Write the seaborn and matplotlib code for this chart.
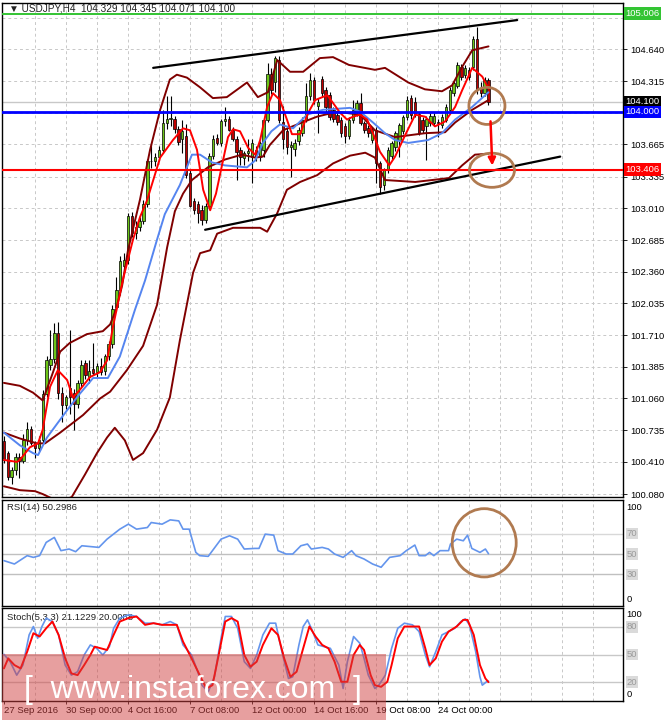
import numpy as np
import matplotlib
matplotlib.use('Agg')
import matplotlib.pyplot as plt
import matplotlib.transforms as mtransforms
from matplotlib.patches import Ellipse, Rectangle
import seaborn as sns

# H4 bars, index 0 = 27 Sep 2016 08:00
opens = [100.62, 100.50, 100.26, 100.33, 100.46, 100.42, 100.63, 100.75, 100.60, 100.55,
         100.63, 101.11, 101.40, 101.47, 101.73, 101.12, 100.99, 101.17, 101.12, 101.00,
         101.22, 101.42, 101.28, 101.36, 101.33, 101.39, 101.34, 101.50, 101.62, 102.00,
         102.17, 102.42, 102.48, 102.93, 102.76, 102.82, 102.88, 103.05, 103.49, 103.50,
         103.54, 103.61, 103.88, 103.93, 103.93, 103.82, 103.72, 103.75, 103.37, 103.09,
         103.05, 102.99, 102.89, 103.03, 103.55, 103.73, 103.68, 103.91, 103.93, 103.81,
         103.72, 103.61, 103.53, 103.58, 103.54, 103.61, 103.54, 103.61, 103.92, 104.39,
         104.30, 104.53, 103.90, 103.80, 103.64, 103.62, 103.70, 103.78, 103.92, 104.16,
         104.33, 104.06, 104.34, 104.22, 104.17, 104.02, 103.97, 103.92, 103.85, 103.75,
         103.92, 104.00, 104.09, 103.88, 103.83, 103.71, 103.81, 103.47, 103.25, 103.40,
         103.55, 103.64, 103.71, 103.80, 103.95, 104.14, 104.10, 103.98, 103.92, 103.85,
         103.88, 103.88, 103.90, 103.86, 103.92, 104.02, 104.19, 104.26, 104.46, 104.38,
         104.43, 104.46, 104.75, 104.24, 104.19, 104.329]
highs = [100.68, 100.52, 100.36, 100.50, 100.50, 100.70, 100.82, 100.78, 100.62, 100.68,
         101.15, 101.50, 101.76, 101.83, 101.84, 101.18, 101.10, 101.76, 101.16, 101.25,
         101.45, 101.45, 101.45, 101.63, 101.42, 101.48, 101.52, 101.65, 102.02, 102.31,
         102.52, 102.55, 102.96, 102.97, 102.88, 102.92, 103.10, 103.52, 103.68, 103.58,
         103.65, 104.02, 104.16, 104.16, 103.96, 103.85, 103.92, 103.87, 103.40, 103.12,
         103.08, 103.04, 103.06, 103.58, 103.76, 103.77, 103.93, 104.05, 103.96, 103.84,
         103.75, 103.64, 103.60, 103.72, 103.72, 103.65, 103.70, 103.94, 104.50, 104.45,
         104.57, 104.57, 104.06, 103.84, 103.70, 103.72, 103.84, 103.95, 104.29, 104.40,
         104.36, 104.14, 104.37, 104.25, 104.20, 104.05, 104.00, 103.95, 103.88, 103.95,
         104.12, 104.12, 104.19, 103.91, 103.86, 103.84, 103.84, 103.50, 103.42, 103.64,
         103.70, 103.80, 103.88, 103.97, 104.16, 104.17, 104.15, 104.00, 103.95, 103.96,
         103.99, 103.99, 103.93, 103.98, 104.08, 104.25, 104.32, 104.51, 104.49, 104.48,
         104.46, 104.78, 104.87, 104.30, 104.36, 104.345]
lows = [100.40, 100.22, 100.18, 100.28, 100.24, 100.40, 100.58, 100.58, 100.45, 100.52,
        100.60, 101.08, 101.35, 101.42, 101.05, 100.82, 100.95, 100.90, 100.74, 100.96,
        101.18, 101.26, 101.22, 101.30, 101.28, 101.30, 101.30, 101.45, 101.58, 101.96,
        102.12, 102.38, 102.44, 102.72, 102.70, 102.78, 102.85, 103.02, 103.42, 103.44,
        103.50, 103.58, 103.82, 103.85, 103.78, 103.66, 103.58, 103.32, 103.02, 102.95,
        102.86, 102.84, 102.86, 103.00, 103.52, 103.66, 103.65, 103.85, 103.80, 103.70,
        103.30, 103.45, 103.45, 103.50, 103.27, 103.50, 103.50, 103.54, 103.90, 104.18,
        104.20, 103.88, 103.62, 103.57, 103.33, 103.55, 103.66, 103.75, 103.90, 104.12,
        104.08, 103.78, 104.15, 104.00, 103.92, 103.90, 103.86, 103.74, 103.68, 103.72,
        103.88, 103.96, 103.86, 103.78, 103.74, 103.68, 103.27, 103.16, 103.20, 103.37,
        103.52, 103.60, 103.54, 103.77, 103.92, 103.93, 103.95, 103.76, 103.78, 103.51,
        103.85, 103.85, 103.74, 103.83, 103.90, 104.00, 104.16, 104.24, 104.33, 104.35,
        104.33, 104.43, 104.18, 104.15, 104.16, 104.071]
closes = [100.43, 100.26, 100.33, 100.46, 100.42, 100.63, 100.75, 100.60, 100.55, 100.63,
          101.11, 101.45, 101.47, 101.73, 101.12, 100.99, 101.08, 101.08, 101.00, 101.22,
          101.40, 101.30, 101.34, 101.32, 101.39, 101.33, 101.50, 101.62, 101.98, 102.17,
          102.47, 102.48, 102.93, 102.76, 102.82, 102.88, 103.05, 103.49, 103.50, 103.54,
          103.61, 103.88, 103.93, 103.94, 103.82, 103.69, 103.80, 103.35, 103.03, 102.99,
          102.96, 102.89, 103.03, 103.55, 103.72, 103.68, 103.91, 103.93, 103.81, 103.72,
          103.59, 103.54, 103.58, 103.60, 103.68, 103.54, 103.68, 103.92, 104.39, 104.22,
          104.55, 103.92, 103.72, 103.64, 103.66, 103.68, 103.81, 103.92, 104.16, 104.33,
          104.12, 104.10, 104.19, 104.05, 103.95, 103.93, 103.90, 103.78, 103.75, 103.92,
          104.02, 104.09, 103.88, 103.81, 103.78, 103.81, 103.47, 103.23, 103.40, 103.61,
          103.68, 103.78, 103.86, 103.95, 104.12, 103.97, 103.98, 103.78, 103.81, 103.93,
          103.96, 103.96, 103.88, 103.95, 104.05, 104.22, 104.29, 104.48, 104.36, 104.45,
          104.36, 104.75, 104.22, 104.19, 104.33, 104.100]

# Bollinger bands (upper / middle / lower), read at turning points
bb_up_bars = [0, 4.1, 7.5, 10, 12.4, 14.5, 17, 21.4, 25.5, 27.4, 28.9, 30.5, 32, 35.1, 37.7,
              40.3, 42.8, 44.6, 47.2, 50.6, 53.9, 57.5, 62.7, 65.5, 68.1, 70.5, 73.8, 77.2,
              81.5, 84.9, 89, 95.7, 98.3, 104.3, 108.6, 113, 115.6, 118.2, 120.8, 125]
bb_up_vals = [101.22, 101.19, 101.12, 101.04, 101.30, 101.54, 101.63, 101.72, 101.75, 101.82,
              101.97, 102.22, 102.58, 103.10, 103.61, 104.02, 104.33, 104.38, 104.35, 104.25,
              104.14, 104.15, 104.30, 104.15, 104.20, 104.53, 104.41, 104.41, 104.55, 104.56,
              104.48, 104.43, 104.45, 104.30, 104.23, 104.21, 104.27, 104.46, 104.63, 104.67]
bb_mid_bars = [0, 4.1, 8.5, 10.6, 14.5, 20.4, 24.8, 27.4, 31.7, 35.9, 39.5, 42.1, 44.1, 46.2,
               48.5, 52.6, 57, 61.4, 64.8, 66.8, 68.6, 72, 73.8, 78.2, 80.8, 85.9, 91.9, 95.7,
               100.9, 108.6, 113.8, 116.4, 120.8, 125]
bb_mid_vals = [100.71, 100.65, 100.60, 100.60, 100.71, 100.89, 101.06, 101.13, 101.35, 101.60,
               102.02, 102.61, 102.98, 103.16, 103.30, 103.43, 103.51, 103.56, 103.53, 103.54,
               103.66, 103.81, 103.84, 103.91, 103.95, 104.00, 103.97, 103.81, 103.74, 103.78,
               103.79, 103.89, 104.02, 104.12]
bb_low_bars = [0, 4.1, 8, 10, 13.2, 15.7, 17.5, 20.9, 24, 26.6, 28.6, 31.2, 33.3, 35.9, 39.5,
               42.8, 45.4, 48.8, 50.6, 53.2, 55, 59.1, 66.1, 67.9, 70.5, 73, 76.4, 80.8, 84.9,
               89.3, 93.2, 95.7, 98.3, 106.1, 114.8, 118.2, 121.5, 125]
bb_low_vals = [100.16, 100.12, 100.11, 100.08, 100.02, 100.02, 100.05, 100.28, 100.50, 100.66,
               100.76, 100.63, 100.43, 100.50, 100.74, 101.07, 101.66, 102.35, 102.55, 102.58,
               102.75, 102.81, 102.81, 102.77, 102.96, 103.20, 103.28, 103.35, 103.47, 103.55,
               103.58, 103.53, 103.30, 103.28, 103.32, 103.45, 103.56, 103.57]

# slow moving average (blue)
blue_bars = [0, 4.1, 7.5, 8.8, 11.1, 16.3, 19.6, 23, 26.8, 29.9, 33.8, 36.4, 39.5, 41.5, 45.4,
             48.5, 50.6, 53.7, 57, 62.7, 64.8, 66.8, 69, 71.2, 74.6, 78.2, 82.3, 89.3, 91.9,
             95.2, 98.3, 100.9, 104.3, 109.4, 113, 116.4, 120.8, 125]
blue_vals = [100.71, 100.58, 100.50, 100.48, 100.66, 100.94, 101.11, 101.27, 101.27, 101.49,
             101.97, 102.27, 102.69, 102.95, 103.25, 103.56, 103.56, 103.48, 103.45, 103.43,
             103.50, 103.68, 103.80, 103.87, 103.83, 103.97, 104.02, 104.04, 104.00, 103.89,
             103.78, 103.71, 103.68, 103.71, 103.78, 103.92, 104.05, 104.20]

# fast moving average (red)
red_bars = [0, 3.4, 4.1, 6.7, 8.8, 10, 11.9, 13.9, 16.3, 17.8, 19.6, 22.2, 24.8, 26.6, 28.1,
            30.7, 33.3, 35.1, 36.9, 40.3, 43.6, 46.2, 48, 49.8, 51.4, 53.2, 54.7, 56.3, 57.8,
            59.1, 60.9, 63, 64.8, 66.1, 67.9, 69.4, 71.2, 73, 74.3, 76.4, 78.5, 80.3, 83.4,
            84.9, 86.7, 88.5, 90.1, 91.9, 93.7, 95.2, 97, 99.4, 100.9, 103.5, 106.1, 108.6,
            111.2, 113.8, 116.4, 118.2, 120.8, 123.4, 125]
red_vals = [100.43, 100.41, 100.43, 100.56, 100.60, 100.74, 101.18, 101.35, 101.25, 101.07,
            101.15, 101.28, 101.33, 101.45, 101.79, 102.28, 102.69, 102.92, 103.09, 103.53,
            103.71, 103.83, 103.81, 103.61, 103.20, 102.99, 103.16, 103.46, 103.74, 103.82,
            103.80, 103.63, 103.56, 103.71, 104.05, 104.19, 104.12, 103.92, 103.77, 103.77,
            103.99, 104.12, 104.17, 104.09, 103.99, 103.92, 103.95, 103.97, 103.92, 103.78,
            103.59, 103.45, 103.54, 103.76, 103.97, 103.95, 103.85, 103.90, 104.05, 104.22,
            104.45, 104.36, 104.24]

# channel lines
chan_up_bars = [38.5, 132.4]
chan_up_vals = [104.45, 104.94]
chan_low_bars = [51.9, 143.5]
chan_low_vals = [102.79, 103.54]

# RSI(14)
rsi_bars = [0, 2.7, 6, 7.6, 9.2, 10.9, 13, 14.7, 16.8, 18.5, 20.1, 24.5, 26.6, 29.9, 32.1,
            34.2, 37, 38, 40.8, 42.9, 45.1, 46.2, 47.8, 49.5, 50.5, 52.7, 56, 58.2, 60.3, 62,
            64.7, 65.8, 67.4, 69.6, 70.7, 72.8, 74.5, 76.6, 78.3, 79.3, 82.1, 83.7, 85.3,
            87.5, 89.7, 90.8, 92.9, 95.1, 97.3, 99.5, 102.2, 103.8, 106, 107.1, 108.7, 109.8,
            110.9, 112.5, 114.7, 115.2, 116.8, 118.5, 119.6, 120.7, 122.8, 124.2, 125]
rsi_vals = [43.5, 40.2, 48.4, 46.7, 48.4, 61.4, 66.3, 53.3, 54.9, 52.3, 58.1, 56.5, 64.6, 74.4,
            79.3, 74.4, 76.0, 80.9, 79.3, 83.5, 82.5, 74.4, 74.4, 51.6, 48.4, 47.7, 64.6, 67.9,
            64.6, 54.9, 55.5, 55.5, 69.5, 68.5, 53.3, 50.0, 50.0, 58.1, 59.8, 54.9, 56.5, 54.9,
            50.0, 46.7, 53.3, 48.4, 45.1, 40.2, 37.0, 46.7, 48.4, 53.3, 58.8, 48.4, 48.4, 51.6,
            48.4, 53.3, 53.3, 59.8, 64.6, 63.0, 68.5, 55.5, 51.6, 54.9, 50.3]

# Stochastic(5,3,3): %K (blue) and %D (red)
stk_bars = [0, 1.6, 3.3, 4.9, 6.5, 7.6, 8.7, 9.8, 10.9, 12.5, 14.1, 15.8, 17.4, 19, 20.7, 22.3,
            23.9, 25.5, 27.2, 28.3, 29.9, 32.1, 34.2, 36.4, 38.6, 40.8, 42.9, 44.6, 46.2, 48.4,
            50, 51.1, 52.7, 54.3, 56, 57.1, 58.7, 60.3, 62, 63.6, 65.2, 66.8, 68.5, 70.1, 71.7,
            73.4, 74.5, 76.1, 77.2, 78.3, 79.3, 81, 82.6, 84.2, 86.4, 87.5, 88.6, 90.2, 91.8,
            92.9, 94, 95.7, 96.7, 98.4, 100, 101.6, 103.3, 105.4, 107.1, 108.7, 109.8, 111.4,
            113, 114.7, 116.3, 117.9, 119, 120.1, 121.7, 122.8, 123.4, 124.5, 125]
stk_vals = [50.2, 42.2, 27.6, 38.5, 71.3, 80.4, 67.6, 80.4, 89.5, 85.8, 71.3, 38.5, 27.6, 31.3,
            49.5, 60.4, 56.7, 49.5, 58.5, 78.5, 89.5, 93.1, 91.3, 84.0, 84.0, 82.2, 85.8, 82.2,
            60.4, 49.5, 31.3, 16.7, 9.5, 25.8, 67.6, 91.3, 91.3, 78.5, 42.2, 34.9, 49.5, 71.3,
            84.0, 84.0, 53.1, 24.0, 25.8, 60.4, 80.4, 87.6, 78.5, 60.4, 58.5, 56.7, 38.5, 13.1,
            42.2, 69.5, 62.2, 45.8, 27.6, 13.1, 16.7, 27.6, 56.7, 78.5, 84.0, 82.2, 74.9, 49.5,
            36.7, 53.1, 71.3, 74.9, 78.5, 85.8, 88.7, 82.2, 53.1, 25.8, 16.7, 20.4, 21.1]
std_bars = [0, 1.1, 2.7, 4.3, 6, 7.6, 9.2, 10.9, 12.5, 14.1, 15.8, 17.4, 19, 20.7, 22.3, 23.4,
            25, 26.6, 28.3, 29.9, 32.1, 34.2, 36.4, 38.6, 40.8, 42.9, 44.6, 46.2, 48.4, 50.5,
            52.2, 53.8, 55.4, 57.1, 58.7, 60.3, 62, 63.6, 65.2, 66.8, 69, 70.7, 72.3, 73.9,
            75.5, 77.2, 78.8, 80.4, 82.1, 83.7, 85.3, 87, 88.6, 90.2, 91.8, 92.9, 94.6, 95.7,
            97.3, 98.9, 100, 101.6, 103.3, 105.4, 107.1, 108.7, 109.8, 111.4, 113, 114.7,
            116.8, 118.5, 119.6, 121.2, 122.8, 124.2, 125]
std_vals = [34.9, 45.8, 38.5, 34.9, 53.1, 73.1, 69.5, 78.5, 85.8, 71.3, 45.8, 29.5, 27.6, 38.5,
            49.5, 58.5, 56.7, 54.9, 71.3, 85.8, 89.5, 91.3, 82.2, 84.0, 82.2, 82.2, 82.2, 64.0,
            45.8, 27.6, 13.1, 16.7, 49.5, 85.8, 89.5, 85.8, 49.5, 36.7, 42.2, 60.4, 78.5, 71.3,
            45.8, 25.8, 31.3, 56.7, 80.4, 69.5, 60.4, 56.7, 42.2, 20.4, 20.4, 49.5, 60.4, 54.9,
            27.6, 16.7, 14.9, 20.4, 38.5, 67.6, 80.4, 80.4, 80.4, 56.7, 38.5, 45.8, 64.0, 74.9,
            80.4, 87.6, 87.6, 71.3, 38.5, 24.0, 20.0]

price_ticks = [100.080, 100.410, 100.735, 101.060, 101.385, 101.710, 102.035, 102.360,
               102.685, 103.010, 103.335, 103.665, 103.990, 104.315, 104.640, 104.965]
# labels hidden behind the coloured price boxes in the reference
hidden_ticks = [103.990, 104.965]
date_bars = [0, 16, 32, 48, 64, 80, 96, 112]
date_labels = ['27 Sep 2016', '30 Sep 00:00', '4 Oct 16:00', '7 Oct 08:00',
               '12 Oct 00:00', '14 Oct 16:00', '19 Oct 08:00', '24 Oct 00:00']

sns.set_theme(style='white')
plt.rcParams['font.family'] = ['Liberation Sans', 'DejaVu Sans']

opens = np.array(opens)
highs = np.array(highs)
lows = np.array(lows)
closes = np.array(closes)
bars = np.arange(len(closes))

fig = plt.figure(figsize=(6.65, 7.21), dpi=100)
fig.patch.set_facecolor('white')
W, H = 665.0, 721.0
ax = fig.add_axes([2 / W, 1 - 497 / H, 621 / W, 494 / H])
ax_rsi = fig.add_axes([2 / W, 1 - 606 / H, 621 / W, 106 / H])
ax_sto = fig.add_axes([2 / W, 1 - 701 / H, 621 / W, 93 / H])

xmin, xmax = -0.5, 159.7
fs = 6.8
grid_col = '#C8C8C8'


def line(a, xs, ys, color, lw, z=5):
    sns.lineplot(x=xs, y=ys, ax=a, color=color, linewidth=lw, sort=False,
                 estimator=None, zorder=z)


for a in (ax, ax_rsi, ax_sto):
    a.set_xlim(xmin, xmax)
    for s in a.spines.values():
        s.set_color('black')
        s.set_linewidth(1.0)
    for gx in range(8, 160, 8):
        a.axvline(gx, color=grid_col, lw=0.7, ls=(0, (3, 3)), zorder=0)

# ---- main price panel
ax.set_ylim(100.05, 105.115)
for t in price_ticks:
    ax.axhline(t, color=grid_col, lw=0.7, ls=(0, (3, 3)), zorder=0)

up = closes >= opens
ax.vlines(bars, lows, highs, color='black', lw=0.8, zorder=3)
ax.bar(bars[up], np.maximum(closes - opens, 0.008)[up], bottom=opens[up], width=0.62,
       color='#6CC417', edgecolor='black', linewidth=0.5, zorder=4)
ax.bar(bars[~up], (opens - closes)[~up], bottom=closes[~up], width=0.62,
       color='#C00000', edgecolor='black', linewidth=0.5, zorder=4)

line(ax, bb_up_bars, bb_up_vals, '#800000', 1.4)
line(ax, bb_mid_bars, bb_mid_vals, '#800000', 1.4)
line(ax, bb_low_bars, bb_low_vals, '#800000', 1.4)
line(ax, blue_bars, blue_vals, '#5585F0', 1.4, 6)
line(ax, red_bars, red_vals, '#FF0000', 1.4, 7)
line(ax, chan_up_bars, chan_up_vals, 'black', 1.6, 8)
line(ax, chan_low_bars, chan_low_vals, 'black', 1.6, 8)

ax.axhline(105.006, color='#33C433', lw=1.4, zorder=8)
ax.axhline(104.100, color='#C8C8C8', lw=1.0, zorder=2)
ax.axhline(104.000, color='#0000FF', lw=2.0, zorder=8)
ax.axhline(103.406, color='#FF0000', lw=1.5, zorder=8)

ax.add_patch(Ellipse((124.6, 104.06), 9.3, 0.38, fill=False, ec='#B07A50', lw=2, zorder=9))
ax.add_patch(Ellipse((125.9, 103.40), 11.6, 0.35, fill=False, ec='#B07A50', lw=2, zorder=9))
ax.annotate('', xy=(126.0, 103.42), xytext=(125.5, 103.93),
            arrowprops=dict(arrowstyle='-|>', color='#FF0000', lw=1.8, mutation_scale=11),
            zorder=9)

ax.set_xticks([])
ax.yaxis.tick_right()
ax.set_yticks(price_ticks)
ax.set_yticklabels(['' if t in hidden_ticks else f'{t:.3f}' for t in price_ticks])
ax.tick_params(axis='y', which='major', right=True, left=False, labelright=True,
               labelleft=False, length=3, width=0.6, pad=2, labelsize=fs, colors='black')

blend = mtransforms.blended_transform_factory(ax.transAxes, ax.transData)
for val, fc in [(105.006, '#33C433'), (104.100, '#000000'),
                (104.000, '#0000FF'), (103.406, '#FF0000')]:
    ax.text(1.004, val, f'{val:.3f}', transform=blend, ha='left', va='center', fontsize=fs,
            color='white', zorder=20, clip_on=False,
            bbox=dict(boxstyle='square,pad=0.18', fc=fc, ec='none'))

ax.text(0.012, 0.999, '\u25bc USDJPY,H4  104.329 104.345 104.071 104.100',
        transform=ax.transAxes, ha='left', va='top', fontsize=7.2, color='#222222', zorder=10)

# ---- RSI panel
ax_rsi.set_ylim(-1, 103)
for lv, c in [(70, '#D8D8D8'), (50, '#C0C0C0'), (30, '#C0C0C0')]:
    ax_rsi.axhline(lv, color=c, lw=1.0, zorder=1)
line(ax_rsi, rsi_bars, rsi_vals, '#6495ED', 1.2)
ax_rsi.add_patch(Ellipse((123.9, 61), 16.5, 67, fill=False, ec='#B07A50', lw=2, zorder=9))
ax_rsi.text(0.008, 0.93, 'RSI(14) 50.2986', transform=ax_rsi.transAxes, ha='left',
            va='center', fontsize=fs, color='#222222')

# ---- Stochastic panel
ax_sto.set_ylim(-0.5, 100.5)
for lv in (80, 50, 20):
    ax_sto.axhline(lv, color='#C8C8C8', lw=1.0, zorder=1)
line(ax_sto, stk_bars, stk_vals, '#6495ED', 1.2)
line(ax_sto, std_bars, std_vals, '#FF0000', 1.4, 6)
ax_sto.text(0.008, 0.9, 'Stoch(5,3,3) 21.1229 20.0088', transform=ax_sto.transAxes,
            ha='left', va='center', fontsize=fs, color='#222222')

for a, levels, top_y, bot_y in [(ax_rsi, (70, 50, 30), 0.925, 0.057),
                                (ax_sto, (80, 50, 20), 0.925, 0.075)]:
    a.set_yticks([])
    a.set_xticks([])
    bl = mtransforms.blended_transform_factory(a.transAxes, a.transData)
    for lv in levels:
        a.text(1.006, lv, str(lv), transform=bl, ha='left', va='center', fontsize=fs,
               color='#9A9A9A', clip_on=False,
               bbox=dict(boxstyle='square,pad=0.12', fc='#DADADA', ec='none'))
    a.text(1.006, top_y, '100', transform=a.transAxes, ha='left', va='center',
           fontsize=fs, color='black')
    a.text(1.006, bot_y, '0', transform=a.transAxes, ha='left', va='center',
           fontsize=fs, color='black')

ax_sto.set_xticks(date_bars)
ax_sto.set_xticklabels(date_labels, ha='left')
ax_sto.tick_params(axis='x', bottom=True, length=2, width=0.6, pad=1.5, labelsize=fs,
                   colors='black')

# ---- watermark
fig.patches.append(Rectangle((2 / W, 1 - 720 / H), 384 / W, 66 / H, transform=fig.transFigure,
                             fc='#D04040', alpha=0.5, ec='none', zorder=10))
fig.text(193 / W, 1 - 698 / H, '[  www.instaforex.com  ]', ha='center', va='baseline',
         fontsize=23, color='white', zorder=11)

fig.savefig('out.png', dpi=100)
